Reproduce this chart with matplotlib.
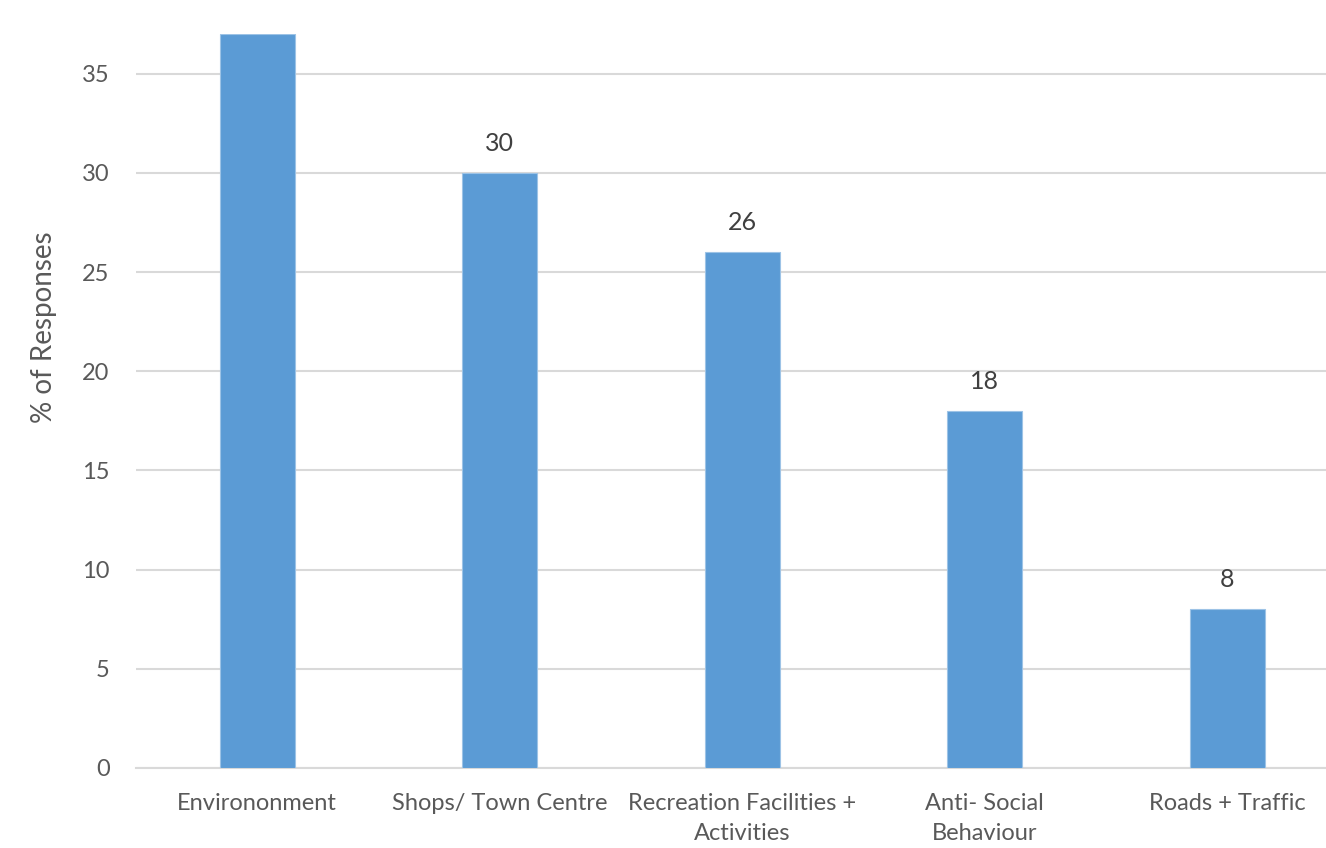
import matplotlib.pyplot as plt

# categories and values
categories = ["Environonment", "Shops/ Town Centre", "Recreation Facilities +\nActivities",
              "Anti- Social\nBehaviour", "Roads + Traffic"]
values = [37, 30, 26, 18, 8]
labels = ["", "30", "26", "18", "8"]
yticks = [0, 5, 10, 15, 20, 25, 30, 35]

plt.rcParams['font.family'] = ['Lato', 'DejaVu Sans']
text_color = "#595959"

fig = plt.figure(figsize=(13.26, 8.48), dpi=100)
ax = fig.add_axes([136 / 1326, 80 / 848, 1212.5 / 1326, 734 / 848])

x = range(len(categories))
bars = ax.bar(x, values, width=0.31, color="#5b9bd5", edgecolor="#9dc3e6", linewidth=0.8, zorder=3)

for b, lab in zip(bars, labels):
    if lab:
        ax.annotate(lab, (b.get_x() + b.get_width() / 2, b.get_height()),
                    xytext=(0, 13), textcoords="offset points",
                    ha="center", va="bottom", fontsize=18, color="#404040")

ax.set_xlim(-0.5, 4.5)
ax.set_ylim(0, 37)
ax.set_yticks(yticks)
ax.set_xticks(list(x))
ax.set_xticklabels(categories, fontsize=17, color=text_color, linespacing=1.5)
ax.tick_params(axis="y", labelsize=17, labelcolor=text_color, length=0, pad=19)
ax.tick_params(axis="x", length=0, pad=18)

ax.yaxis.grid(True, color="#d9d9d9", linewidth=1.5, zorder=0)
for s in ["top", "right", "left"]:
    ax.spines[s].set_visible(False)
ax.spines["bottom"].set_color("#d9d9d9")
ax.spines["bottom"].set_linewidth(1.5)

ax.set_ylabel("% of Responses", fontsize=20, color=text_color)
ax.yaxis.set_label_coords(-0.065, 0.6)

fig.savefig("out.png", dpi=100)
